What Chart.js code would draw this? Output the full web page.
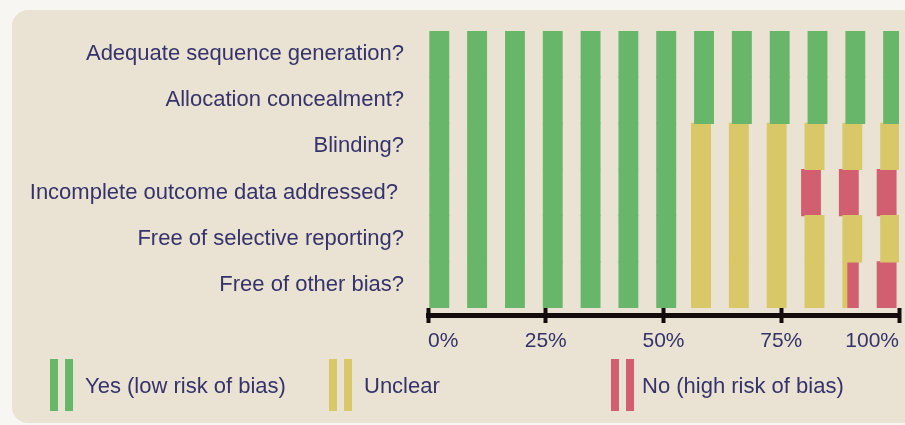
<!DOCTYPE html>
<html>
<head>
<meta charset="utf-8">
<script src="https://cdn.jsdelivr.net/npm/chart.js@4/dist/chart.umd.min.js"></script>
<style>
  body { margin: 0; background: #f7f6f2; }
  #wrap { position: relative; width: 905px; height: 425px; overflow: hidden; font-family: 'Liberation Sans', Arial, sans-serif; }
  .panel { position: absolute; left: 12px; top: 10px; width: 920px; height: 413px; border-radius: 16px; background: #eae3d3; }
  canvas { position: absolute; left: 0; top: 0; }
  .lg { position: absolute; top: 359px; height: 52px; }
  .lg i { position: absolute; top: 0; width: 8px; height: 52px; }
  .lg span { position: absolute; top: 14px; white-space: nowrap; font-size: 22px; color: #35336a; }
</style>
</head>
<body>
<div id="wrap">
  <div class="panel"></div>
  <canvas id="rob" width="905" height="425"></canvas>
  <div id="legend"></div>
</div>
<script>
// domains (rows, top to bottom)
const domains = [
  'Adequate sequence generation?',
  'Allocation concealment?',
  'Blinding?',
  'Incomplete outcome data addressed? ',
  'Free of selective reporting?',
  'Free of other bias?'
];
const seriesNames = ['Yes (low risk of bias)', 'Unclear', 'No (high risk of bias)'];
// % of studies per judgement
const yesPct     = [100, 100, 55.6, 55.6, 55.6, 55.6];
const unclearPct = [0, 0, 44.4, 22.2, 44.4, 33.3];
const noPct      = [0, 0, 0, 22.2, 0, 11.1];
const xTicks = [0, 25, 50, 75, 100];

const COLORS = ['#67b66a', '#d9c867', '#d25f70'];
const TXT = '#35336a';
const AXIS = '#140c0c';
const FONT = { family: "'Liberation Sans', Arial, sans-serif", size: 21 };
const LABEL_FONT = { family: "'Liberation Sans', Arial, sans-serif", size: 22 };

// vertical stripe fill, phase locked to the x scale
function stripes(color, shift) {
  return (c) => {
    const x = c.chart.scales.x;
    if (!x) return color;
    const x0 = x.getPixelForValue(0);
    const period = x.getPixelForValue(8.03) - x0;
    const cv = document.createElement('canvas');
    cv.width = 38; cv.height = 2;
    const g = cv.getContext('2d');
    g.fillStyle = color;
    g.fillRect(0, 0, 20, 2);
    const p = c.chart.ctx.createPattern(cv, 'repeat');
    p.setTransform(new DOMMatrix().translate(x0 + 1.3 + shift, 0).scale(period / 38, 1));
    return p;
  };
}

const vals = [yesPct, unclearPct, noPct];
const shifts = [0, -3, -6.5];

new Chart(document.getElementById('rob'), {
  type: 'bar',
  data: {
    labels: domains,
    datasets: seriesNames.map((name, i) => ({
      label: name,
      data: vals[i],
      xAxisID: 'x', yAxisID: 'y',
      backgroundColor: stripes(COLORS[i], shifts[i]),
      borderWidth: 0,
      inflateAmount: 0.6,
      barPercentage: 1,
      categoryPercentage: 1
    }))
  },
  options: {
    indexAxis: 'y',
    responsive: false,
    animation: false,
    layout: { padding: { left: 0, top: 31, right: 5, bottom: 77 } },
    plugins: { legend: { display: false }, tooltip: { enabled: false } },
    scales: {
      x: {
        type: 'linear', position: 'bottom', stacked: true, min: 0, max: 100,
        afterBuildTicks: s => { s.ticks = xTicks.map(v => ({ value: v })); },
        afterFit: s => { s.height = 40; },
        ticks: { color: TXT, font: FONT, align: 'inner', padding: 6, callback: v => v + '%' },
        grid: { drawOnChartArea: false, tickLength: 15, tickWidth: 4, tickColor: AXIS },
        border: { display: false }
      },
      xLine: {
        axis: 'x', type: 'linear', min: 0, max: 100, position: { y: 5.66 },
        ticks: { display: false },
        grid: { drawOnChartArea: false, drawTicks: false },
        border: { display: true, width: 5, color: AXIS }
      },
      y: {
        type: 'category', stacked: true,
        afterFit: s => { s.width = 428; s.paddingTop = 0; s.paddingBottom = 0; },
        ticks: { color: TXT, font: LABEL_FONT, padding: 24 },
        grid: { display: false, drawTicks: false },
        border: { display: false }
      }
    }
  }
});

// legend
const lgLeft = [50, 329, 611];
const lgText = [85, 364, 642];
const legend = document.getElementById('legend');
seriesNames.forEach((name, i) => {
  const d = document.createElement('div');
  d.className = 'lg';
  d.style.left = lgLeft[i] + 'px';
  d.innerHTML = `<i style="left:0;background:${COLORS[i]}"></i><i style="left:15px;background:${COLORS[i]}"></i>` +
    `<span style="left:${lgText[i] - lgLeft[i]}px">${name}</span>`;
  legend.appendChild(d);
});
</script>
</body>
</html>
